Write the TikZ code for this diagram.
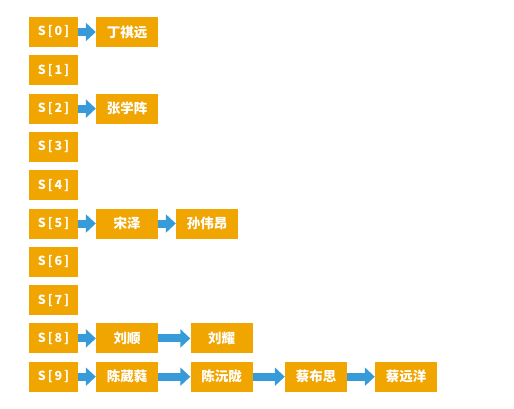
\documentclass[tikz,border=0pt]{standalone}
\usepackage{fontspec}
\usetikzlibrary{arrows.meta}
\newfontfamily\cjk{Noto Sans CJK SC}
\newfontfamily\slabel[LetterSpace=15]{Noto Sans CJK SC}
\definecolor{boxorange}{RGB}{240,165,0}
\definecolor{linkblue}{RGB}{55,155,218}
\tikzset{
  slot/.style={fill=boxorange, minimum width=49pt, minimum height=30pt, inner sep=0pt,
    text=white, font=\slabel\bfseries\fontsize{12.5}{13}\selectfont},
  item/.style={fill=boxorange, minimum width=62pt, minimum height=30pt, inner sep=0pt,
    text=white, font=\cjk\bfseries\fontsize{13.5}{14}\selectfont},
  link/.style={draw=linkblue, line width=8pt, -{Triangle[length=10pt,width=18pt]}}
}
\begin{document}
\begin{tikzpicture}[x=1pt,y=-1pt]
                      \useasboundingbox (0,0) rectangle (514,408);
                      \edef \rowgap {38.3};

                      % hash slots
                      \foreach \i in {0,...,9}
                          {
                              \node[slot] (s\i) at (53.5, 32+\rowgap*\i){S[\i]};
                          }

                      % chained entries
                      \foreach \r / \c / \x / \who in {0/1/127/丁祺远, 2/1/127/张学阵,
                          5/1/127/宋泽, 5/2/207/孙伟昂, 8/1/127/刘顺, 8/2/221.5/刘耀,
                          9/1/127/陈葳蕤, 9/2/221.5/陈沅陇, 9/3/316/蔡布思, 9/4/406/蔡远洋}
                          {
                              \node[item] (n\r\c) at (\x, 32+\rowgap*\r){\who};
                          }

                      \foreach \a / \b in {s0/n01, s2/n21, s5/n51, n51/n52, s8/n81,
                          n81/n82, s9/n91, n91/n92, n92/n93, n93/n94}
                          {
                              \draw[link] (\a) -- (\b);
                          }
                  \end{tikzpicture}
\end{document}
